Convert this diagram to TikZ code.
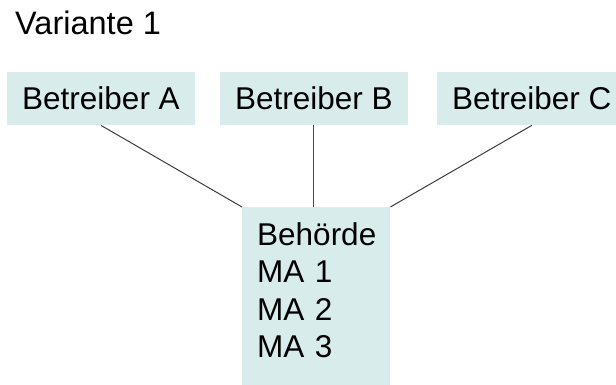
\documentclass[tikz,border=0pt]{standalone}
\usepackage{fontspec}
\setmainfont{Liberation Sans}
\usetikzlibrary{positioning}
\definecolor{boxfill}{RGB}{216,236,236}
\definecolor{linegray}{RGB}{60,60,60}
\definecolor{lineblue}{RGB}{70,55,175}
\tikzset{
  box/.style={fill=boxfill, inner xsep=15pt, inner ysep=0pt, minimum height=53pt,
    font=\fontsize{31.5}{37.5}\selectfont},
  office/.style={box, align=left, text width=118pt, inner ysep=15pt, text depth=132pt},
  title/.style={inner sep=0pt, font=\fontsize{32.5}{37.5}\selectfont},
  link/.style={draw=linegray, line width=1pt},
}

\begin{document}
\begin{tikzpicture}[x=1pt, y=1pt, node distance=27pt]
  \useasboundingbox (0,0) rectangle (616,385);
  \clip (0,0) rectangle (616,385);

  \node[title, anchor=base west] (variant) at (15,350) {Variante 1};

  % Betreiber
  \node[box, anchor=north west] (opA) at (7,313) {Betreiber A};
  \node[box, right=25pt of opA] (opB) {Betreiber B};
  \node[box, right=29pt of opB] (opC) {Betreiber C};

  % Behoerde
  \node[office, anchor=north west] (authority) at (242,178) {Behörde\\MA 1\\MA 2\\MA 3};

  % Verbindungen
  \draw[link] (opA.south) -- (authority.north west);
  \draw[link, draw=lineblue] (opB.south) -- (opB.south |- authority.north);
  \draw[link] (opC.south) -- (authority.north east);
\end{tikzpicture}
\end{document}
